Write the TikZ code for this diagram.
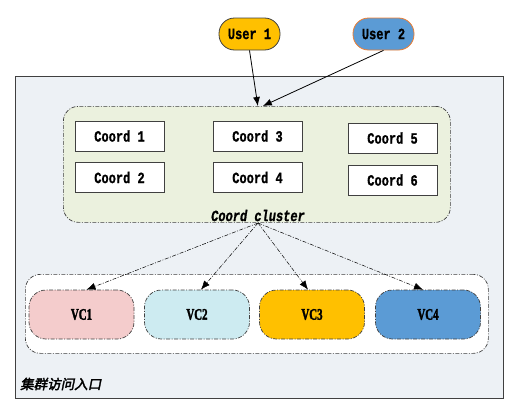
\documentclass[tikz,border=0pt]{standalone}
\usepackage{fontspec}
\setmainfont{Liberation Serif}
\setmonofont[FakeBold=1.2]{Liberation Mono}
\newfontfamily\vcfont[BoldFeatures={FakeBold=2.5}]{Liberation Serif}
\newfontfamily\cjk[FakeSlant=0.2,FakeBold=2.5]{Noto Sans CJK SC}
\usetikzlibrary{arrows.meta}
\definecolor{outerfill}{HTML}{EDF1F5}
\definecolor{clusterfill}{HTML}{EBF1DE}
\definecolor{uorange}{HTML}{FFC000}
\definecolor{ublue}{HTML}{5B9BD5}
\definecolor{uborder}{HTML}{ED7D31}
\definecolor{vpink}{HTML}{F4CCCC}
\definecolor{vcyan}{HTML}{CDEBF1}
\definecolor{edge}{HTML}{404040}
\newcommand{\monotxt}[1]{\scalebox{1}[1.3]{\ttfamily\bfseries\fontsize{12}{12}\selectfont #1}}
\newcommand{\vctxt}[1]{\scalebox{0.68}[1]{\vcfont\bfseries\fontsize{16}{16}\selectfont #1}}
\tikzset{
  dashdot/.style={dash pattern=on 4pt off 1.5pt on 1pt off 1.5pt},
  userbox/.style={draw=edge, line width=0.8pt, rounded corners=15.5pt, minimum width=61pt, minimum height=32pt, inner sep=0pt},
  coordbox/.style={draw=edge, line width=0.8pt, fill=white, minimum width=89pt, minimum height=30pt, inner sep=0pt},
  vcbox/.style={draw=edge, dashdot, line width=0.7pt, rounded corners=17pt, minimum width=105pt, minimum height=49pt, inner sep=0pt},
  solidarrow/.style={-{Latex[length=9pt,width=7pt]}, line width=0.8pt, black},
  thinarrow/.style={-{Latex[length=9pt,width=7pt]}, line width=0.5pt, dashdot, black},
}
\begin{document}
\begin{tikzpicture}[x=1pt,y=-1pt]
\useasboundingbox (0,0) rectangle (518,407);
% outer region
\node[draw=edge, line width=1pt, fill=outerfill, minimum width=488pt, minimum height=322pt, inner sep=0pt, anchor=north west] (outer) at (15,76) {};
\node[anchor=west, inner sep=0pt, font=\cjk\fontsize{13.5}{13.5}\selectfont] (entry) at (20,384) {集群访问入口};
% cluster
\node[draw=edge, dashdot, line width=0.7pt, fill=clusterfill, rounded corners=15pt, minimum width=387pt, minimum height=116pt, inner sep=0pt, anchor=north west] (cluster) at (63,106) {};
\node[inner sep=0pt] (clabel) at (258,215.5) {\scalebox{1}[1.3]{\ttfamily\itshape\bfseries\fontsize{12}{12}\selectfont Coord cluster}};
\coordinate (csrc) at (258,223);
% coord boxes
\node[coordbox] (c1) at (119.5,136) {\monotxt{Coord 1}};
\node[coordbox] (c2) at (119.5,177.5) {\monotxt{Coord 2}};
\node[coordbox] (c3) at (257.5,136) {\monotxt{Coord 3}};
\node[coordbox] (c4) at (257.5,177.5) {\monotxt{Coord 4}};
\node[coordbox] (c5) at (392.5,138) {\monotxt{Coord 5}};
\node[coordbox] (c6) at (392.5,180) {\monotxt{Coord 6}};
% users
\node[userbox, fill=uorange] (u1) at (249.5,34) {\monotxt{User 1}};
\node[userbox, fill=ublue, draw=uborder] (u2) at (383.5,34) {\monotxt{User 2}};
% VC container
\node[draw=edge, dashdot, line width=0.7pt, fill=white, rounded corners=15pt, minimum width=463pt, minimum height=79pt, inner sep=0pt, anchor=north west] (vcc) at (25,274) {};
\node[vcbox, fill=vpink] (vc1) at (81.5,314.5) {\vctxt{VC1}};
\node[vcbox, fill=vcyan] (vc2) at (197,314.5) {\vctxt{VC2}};
\node[vcbox, fill=uorange] (vc3) at (312,314.5) {\vctxt{VC3}};
\node[vcbox, fill=ublue] (vc4) at (428,314.5) {\vctxt{VC4}};
% arrows
\draw[solidarrow] (u1.south) -- ([xshift=1pt]cluster.north);
\draw[solidarrow] (u2.south) -- ([xshift=6pt]cluster.north);
\draw[thinarrow] (csrc) -- ([xshift=5pt]vc1.north);
\draw[thinarrow] (csrc) -- ([xshift=4pt]vc2.north);
\draw[thinarrow] (csrc) -- ([xshift=-4pt]vc3.north);
\draw[thinarrow] (csrc) -- ([xshift=-5pt]vc4.north);
\end{tikzpicture}
\end{document}
